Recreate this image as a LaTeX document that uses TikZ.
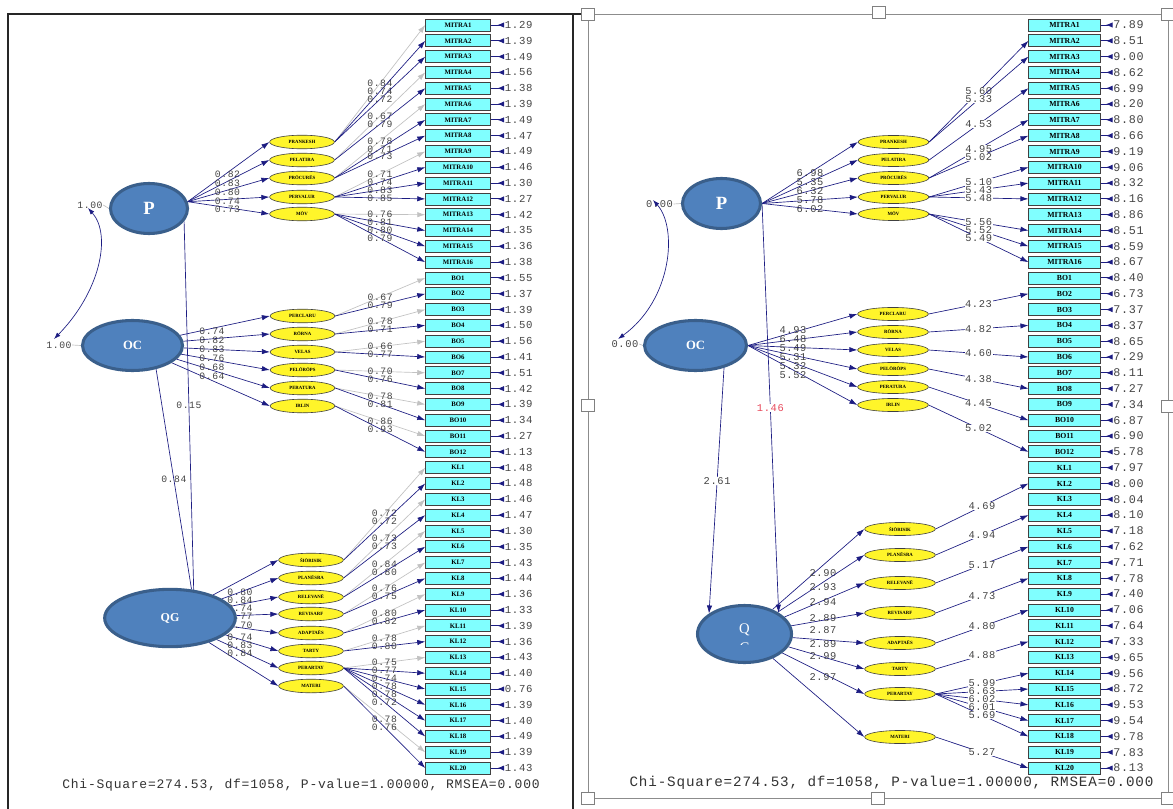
\documentclass[tikz,border=0pt]{standalone}
\usepackage{fontspec}
\setmainfont{Liberation Serif}
\newfontfamily\valfont[LetterSpace=6]{Liberation Mono}
\newfontfamily\chifont[LetterSpace=6]{Liberation Mono}
\usetikzlibrary{shapes.geometric,arrows.meta}
\definecolor{navy}{HTML}{1C1C82}
\definecolor{lgray}{HTML}{C2C2C2}
\definecolor{vgray}{HTML}{454545}
\definecolor{boxc}{HTML}{80FFFF}
\definecolor{ellc}{HTML}{FFF52A}
\definecolor{bigc}{HTML}{4F81BD}
\definecolor{bigb}{HTML}{3A5F8B}
\definecolor{redv}{HTML}{E8485A}
\pgfdeclarelayer{bg}
\pgfsetlayers{bg,main}
\newcommand\bxname[1]{\ifnum#1<17 MITRA#1\else\ifnum#1<29 BO\number\numexpr#1-16\relax\else KL\number\numexpr#1-28\relax\fi\fi}
\tikzset{
  bigell/.style={ellipse, fill=bigc, draw=bigb, line width=2.3pt, inner sep=0pt, text=white},
  smell/.style={ellipse, fill=ellc, draw=black!75, line width=0.45pt, inner sep=0pt, font={\bfseries\fontsize{3.6}{4}\selectfont}},
  lsm/.style={smell, minimum width=48.5pt, minimum height=10.2pt},
  rsm/.style={smell, minimum width=53pt, minimum height=9.8pt},
  lbox/.style={rectangle, fill=boxc, draw=black!75, line width=0.6pt, minimum width=48.5pt, minimum height=9pt, inner sep=0pt, font={\bfseries\fontsize{5.1}{5.5}\selectfont}},
  rbox/.style={lbox, minimum width=53.5pt, font={\bfseries\fontsize{5.8}{6}\selectfont}},
  conn/.style={line width=0.5pt, -{Latex[length=6pt,width=4pt]}},
  errl/.style={draw=navy, line width=0.7pt, -{Latex[length=5pt,width=4pt,reversed]}},
  lval/.style={anchor=west, inner sep=0.5pt, text=vgray, text height=5.2pt, text depth=0pt, font={\valfont\fontsize{8}{8}\selectfont}},
  rval/.style={lval, text height=5.7pt, font={\valfont\fontsize{8.8}{9}\selectfont}},
  llab/.style={inner sep=0.3pt, text=vgray, text height=4.7pt, text depth=0pt, font={\valfont\fontsize{7.3}{7.5}\selectfont}},
  rlab/.style={inner sep=0.4pt, fill=white, text=vgray, text height=5pt, text depth=0pt, font={\valfont\fontsize{7.8}{8}\selectfont}},
  rlabn/.style={rlab, fill=none},
  chil/.style={inner sep=0pt, text=black!80, font={\chifont\fontsize{9.75}{10}\selectfont}},
  chir/.style={chil, font={\chifont\fontsize{10.7}{11}\selectfont}},
}
\begin{document}
\begin{tikzpicture}[x=0.75pt,y=-0.75pt]
\useasboundingbox (0,0) rectangle (1173,809);
\begin{pgfonlayer}{bg}
\fill[white] (0,0) rectangle (1173,809);
\end{pgfonlayer}
% frames
\draw[black!85, line width=1pt] (8,812) -- (8,14) -- (588,14);
\draw[black!85, line width=1pt] (573,14) -- (573,812);
\draw[black!45, line width=0.6pt] (588,14) rectangle (1168,798);
\foreach \hx/\hy in {588/14, 879/12, 1168/14, 588/405, 1168/406, 588/798, 878/798, 1168/798}
  \draw[black!50, fill=white, line width=0.5pt] (\hx-6.5,\hy-6) rectangle (\hx+6.5,\hy+6);

% big latent variables
\node[bigell, minimum width=57.75pt, minimum height=37.5pt, font={\bfseries\fontsize{14}{14}\selectfont}] (PL) at (149,208.5) {P};
\node[bigell, minimum width=75pt, minimum height=37.5pt, font={\bfseries\fontsize{9.5}{10}\selectfont}] (OCL) at (132.5,345.5) {OC};
\node[bigell, minimum width=98pt, minimum height=43pt, font={\bfseries\fontsize{9}{10}\selectfont}] (QGL) at (170,618) {QG};
\node[bigell, minimum width=58.5pt, minimum height=37.5pt, font={\bfseries\fontsize{14}{14}\selectfont}] (PR) at (721.5,203.5) {P};
\node[bigell, minimum width=76.5pt, minimum height=37.5pt, font={\bfseries\fontsize{9.5}{10}\selectfont}] (OCR) at (695.5,345.5) {OC};
\node[bigell, minimum width=70.5pt, minimum height=42.75pt] (QR) at (744.5,634) {};
\node[text=white, inner sep=0pt, font={\fontsize{11}{11}\selectfont}] (qq) at (744.5,630) {Q};
\begin{scope}
  \clip (730,638) rectangle (760,644.5);
  \node[text=white, inner sep=0pt, font={\fontsize{11}{11}\selectfont}] (qc) at (744.5,648) {C};
\end{scope}

% first-order factors, left
\foreach \nm/\yy [count=\kk] in {PRANKESH/142,PELATIRA/160,PRÖCURËS/178,PERVALUR/197,MÖV/214}
  \node[lsm] (pl\kk) at (302,\yy) {\nm};
\foreach \nm/\yy [count=\kk] in {PERCLARU/316,RÖRNA/334,VELAS/352,PELÖRÖPS/370,PERATURA/388,IRLIN/406}
  \node[lsm] (ol\kk) at (302.5,\yy) {\nm};
\foreach \nm/\yy [count=\kk] in {ŠIÖRISIK/560,PLANËSRA/578,RELEVANË/597,REVISARF/614,ADAPTAËS/633,TARTY/651,PERARTAY/668,MATERI/686}
  \node[lsm] (ql\kk) at (311,\yy) {\nm};
% first-order factors, right
\foreach \nm/\yy [count=\kk] in {PRANKESH/142,PELATIRA/160,PRÖCURËS/178,PERVALUR/197,MÖV/214}
  \node[rsm] (pr\kk) at (893.5,\yy) {\nm};
\foreach \nm/\yy [count=\kk] in {PERCLARU/314,RÖRNA/332,VELAS/350,PELÖRÖPS/369,PERATURA/387,IRLIN/405}
  \node[rsm] (or\kk) at (893,\yy) {\nm};
\foreach \nm/\yy [count=\kk] in {ŠIÖRISIK/529,PLANËSRA/555,RELEVANË/583,REVISARF/613,ADAPTAËS/643,TARTY/669,PERARTAY/694,MATERI/737}
  \node[rsm] (qr\kk) at (900,\yy) {\nm};

% indicators, left
\foreach \val [count=\ii] in {1.29,1.39,1.49,1.56,1.38,1.39,1.49,1.47,1.49,1.46,1.30,1.27,1.42,1.35,1.36,1.38,
  1.55,1.37,1.39,1.50,1.56,1.41,1.51,1.42,1.39,1.34,1.27,1.13,
  1.48,1.48,1.46,1.47,1.30,1.35,1.43,1.44,1.36,1.33,1.39,1.36,1.43,1.40,0.76,1.39,1.40,1.49,1.39,1.43}{
  \pgfmathsetmacro\yy{25+15.81*(\ii-1)}
  \node[lbox] (bl\ii) at (458,\yy) {\bxname{\ii}};
  \node[lval] (vl\ii) at (504,\yy) {\val};
}
% indicators, right
\foreach \val [count=\ii] in {7.89,8.51,9.00,8.62,6.99,8.20,8.80,8.66,9.19,9.06,8.32,8.16,8.86,8.51,8.59,8.67,
  8.40,6.73,7.37,8.37,8.65,7.29,8.11,7.27,7.34,6.87,6.90,5.78,
  7.97,8.00,8.04,8.10,7.18,7.62,7.71,7.78,7.40,7.06,7.64,7.33,9.65,9.56,8.72,9.53,9.54,9.78,7.83,8.13}{
  \pgfmathsetmacro\yy{25+15.81*(\ii-1)}
  \node[rbox] (br\ii) at (1064.5,\yy) {\bxname{\ii}};
  \node[rval] (vr\ii) at (1112.5,\yy) {\val};
}

% chi-square
\node[chil] (chiL) at (301,785) {Chi-Square=274.53, df=1058, P-value=1.00000, RMSEA=0.000};
\node[chir] (chiR) at (891.5,783) {Chi-Square=274.53, df=1058, P-value=1.00000, RMSEA=0.000};

\begin{pgfonlayer}{bg}
% error arrows
\foreach \ii in {1,...,48}{
  \draw[errl] (bl\ii.east) -- (vl\ii.west);
  \draw[errl] (br\ii.east) -- (vr\ii.west);
}
% variances and covariance
\node[llab] (vpl) at (90,205) {1.00};
\node[llab] (vol) at (59,345) {1.00};
\draw[lgray, line width=0.5pt] (vpl.east) -- (PL.west);
\draw[lgray, line width=0.5pt] (vol.east) -- (OCL.west);
\coordinate (cl1) at (88,208);
\coordinate (cl2) at (54,339);
\draw[navy, line width=0.5pt, {Latex[length=5pt,width=3.5pt]}-{Latex[length=5pt,width=3.5pt]}] (cl1) .. controls (112,235) and (100,292) .. (cl2);
\node[rlabn] (vpr) at (659.5,204) {0.00};
\node[rlabn] (vor) at (625,344) {0.00};
\draw[lgray, line width=0.5pt] (vpr.east) -- (PR.west);
\draw[lgray, line width=0.5pt] (vor.east) -- (OCR.west);
\coordinate (cr1) at (653,200);
\coordinate (cr2) at (618,339);
\draw[navy, line width=0.5pt, {Latex[length=5pt,width=3.5pt]}-{Latex[length=5pt,width=3.5pt]}] (cr1) .. controls (678,228) and (672,300) .. (cr2);

% structural paths
\draw[line width=0.5pt, draw=navy] (PL.-20) -- node[llab] (s15) {0.15} (QGL.50);
\draw[line width=0.5pt, draw=navy] (OCL.-45) -- node[llab] (s84) {0.84} (QGL.53);
\draw[conn, draw=navy] (PR.east) -- node[rlab, text=redv] (s146) {1.46} (QR.32);
\draw[conn, draw=navy] (OCR.-38) -- node[rlab, pos=0.46] (s261) {2.61} (QR.150);

% second-order loadings, left
\foreach \val/\yy [count=\kk] in {0.82/174,0.83/183,0.80/192,0.74/201,0.73/209}{
  \draw[conn, draw=navy] (PL.10) -- (pl\kk.west);
  \node[llab] (spl\kk) at (227.5,\yy) {\val};}
\foreach \val/\yy [count=\kk] in {0.74/331,0.82/340,0.83/349,0.76/358,0.68/367,0.64/376}{
  \draw[conn, draw=navy] (OCL) -- (ol\kk.west);
  \node[llab] (sol\kk) at (212,\yy) {\val};}
\foreach \val/\yy [count=\kk] in {0.80/592,0.84/600,0.74/608,0.77/616,0.70/625,0.74/637,0.83/645,0.84/653}{
  \draw[conn, draw=navy] (QGL) -- (ql\kk.west);
  \node[llab] (sql\kk) at (240,\yy) {\val};}
% second-order loadings, right
\foreach \val/\yy [count=\kk] in {6.98/173,5.35/182,6.32/191,5.78/200,6.02/209}{
  \draw[conn, draw=navy] (PR.east) -- (pr\kk.west);
  \node[rlabn] (spr\kk) at (810,\yy) {\val};}
\foreach \val/\yy [count=\kk] in {4.93/330,6.48/339,5.49/348,5.31/357,5.32/366,5.52/375}{
  \draw[conn, draw=navy] (OCR.east) -- (or\kk.west);
  \node[rlabn] (sor\kk) at (793,\yy) {\val};}
\foreach \val/\yy [count=\kk] in {2.90/573,2.93/587,2.94/602,2.89/618,2.87/630,2.89/644,2.99/656,2.97/677}{
  \draw[conn, draw=navy] (QR) -- (qr\kk.west);
  \node[rlabn] (sqr\kk) at (823,\yy) {\val};}

% first-order loadings, left
\foreach \en/\bx/\val/\cl in {pl1/1/0.84/lgray, pl1/2/0.74/navy, pl1/3/0.72/navy, pl2/4/0.67/lgray, pl2/5/0.79/navy,
  pl3/6/0.78/lgray, pl3/7/0.71/navy, pl3/8/0.73/navy, pl4/9/0.71/lgray, pl4/10/0.74/navy, pl4/11/0.83/navy, pl4/12/0.85/navy,
  pl5/13/0.76/lgray, pl5/14/0.81/navy, pl5/15/0.80/navy, pl5/16/0.79/navy,
  ol1/17/0.67/lgray, ol1/18/0.79/navy, ol2/19/0.78/lgray, ol2/20/0.71/navy, ol3/21/0.66/lgray, ol3/22/0.77/navy,
  ol4/23/0.70/lgray, ol4/24/0.76/navy, ol5/25/0.78/lgray, ol5/26/0.81/navy, ol6/27/0.86/lgray, ol6/28/0.93/navy,
  ql1/29/0.72/lgray, ql1/30/0.72/navy, ql2/31/0.73/lgray, ql2/32/0.73/navy, ql3/33/0.84/lgray, ql3/34/0.80/navy,
  ql4/35/0.76/lgray, ql4/36/0.75/navy, ql5/37/0.80/lgray, ql5/38/0.82/navy, ql6/39/0.78/lgray, ql6/40/0.80/navy,
  ql7/41/0.75/lgray, ql7/42/0.77/navy, ql7/43/0.74/navy, ql7/44/0.78/navy, ql7/45/0.78/navy, ql7/46/0.72/navy,
  ql8/47/0.78/lgray, ql8/48/0.76/navy}
  \draw[conn, draw=\cl] (\en.east) -- node[llab] (ll\bx) {\val} (bl\bx.west);
% first-order loadings, right
\foreach \en/\bx/\val in {pr1/2/5.60, pr1/3/5.33, pr2/5/4.53, pr3/7/4.95, pr3/8/5.02, pr4/10/5.10, pr4/11/5.43, pr4/12/5.48,
  pr5/14/5.56, pr5/15/5.52, pr5/16/5.49, or1/18/4.23, or2/20/4.82, or3/22/4.60, or4/24/4.38, or5/26/4.45, or6/28/5.02,
  qr1/30/4.69, qr2/32/4.94, qr3/34/5.17, qr4/36/4.73, qr5/38/4.80, qr6/40/4.88, qr7/42/5.99, qr7/43/6.63, qr7/44/6.02,
  qr7/45/6.01, qr7/46/5.69, qr8/48/5.27}
  \draw[conn, draw=navy] (\en.east) -- node[rlab] (rl\bx) {\val} (br\bx.west);
\end{pgfonlayer}
\end{tikzpicture}
\end{document}
